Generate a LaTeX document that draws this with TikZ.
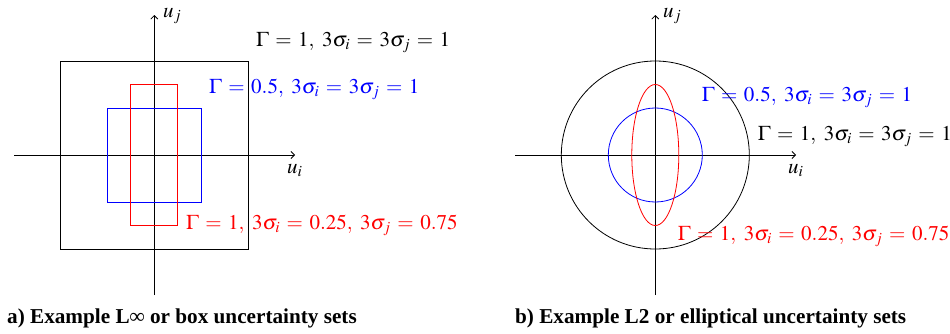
\documentclass[tikz,border=0pt]{standalone}
\usepackage{mathptmx}
\usepackage{fontspec}
\setmainfont{Liberation Serif}
\usetikzlibrary{arrows.meta}
\thickmuskip=5.6mu plus 2mu minus 1mu
\begin{document}
\begin{tikzpicture}[x=1pt,y=1pt,
  ax/.style={line width=0.8pt,-{Straight Barb[length=3.5pt,width=7pt]}},
  shp/.style={line width=0.8pt},
  lbl/.style={anchor=base west,inner sep=0pt,font=\fontsize{21}{24}\selectfont},
  captxt/.style={anchor=base west,inner sep=0pt,font=\fontsize{21.2}{24}\selectfont\bfseries}]
\useasboundingbox (0,0) rectangle (950,333);
% ---------- left panel ----------
\coordinate (Lo) at (154.3,178);
\coordinate (Lxa) at (14,178);
\coordinate (Lxb) at (295,178);
\coordinate (Lya) at (154.3,38);
\coordinate (Lyb) at (154.3,318);
\draw[ax] (Lxa) -- (Lxb);
\draw[ax] (Lya) -- (Lyb);
\draw[shp] ([shift={(-94,-94)}]Lo) rectangle ([shift={(94,94)}]Lo);
\draw[shp,blue] ([shift={(-47,-47)}]Lo) rectangle ([shift={(47,47)}]Lo);
\draw[shp,red] ([shift={(-23.5,-70.5)}]Lo) rectangle ([shift={(23.5,70.5)}]Lo);
\node[lbl] (Luj) at (163,316) {$u_j$};
\node[lbl] (Lui) at (287,160) {$u_i$};
\node[lbl] (Lk) at (256,286.3) {$\Gamma = 1,\ 3\sigma_i = 3\sigma_j = 1$};
\node[lbl,blue] (Lb) at (209,239.7) {$\Gamma = 0.5,\ 3\sigma_i = 3\sigma_j = 1$};
\node[lbl,red] (Lr) at (186,103.7) {$\Gamma = 1,\ 3\sigma_i = 0.25,\ 3\sigma_j = 0.75$};
\node[captxt] (Lc) at (7,9.7) {a) Example L∞ or box uncertainty sets};
% ---------- right panel ----------
\coordinate (Ro) at (655.3,178);
\coordinate (Rxa) at (515,178);
\coordinate (Rxb) at (796,178);
\coordinate (Rya) at (655.3,38);
\coordinate (Ryb) at (655.3,318);
\draw[ax] (Rxa) -- (Rxb);
\draw[ax] (Rya) -- (Ryb);
\draw[shp] (Ro) circle[radius=94];
\draw[shp,blue] (Ro) circle[radius=47];
\draw[shp,red] (Ro) ellipse[x radius=23.5,y radius=70.5];
\node[lbl] (Ruj) at (663,316) {$u_j$};
\node[lbl] (Rui) at (788,160) {$u_i$};
\node[lbl,blue] (Rb) at (701.7,231.3) {$\Gamma = 0.5,\ 3\sigma_i = 3\sigma_j = 1$};
\node[lbl] (Rk) at (757.7,192.3) {$\Gamma = 1,\ 3\sigma_i = 3\sigma_j = 1$};
\node[lbl,red] (Rr) at (677.7,93) {$\Gamma = 1,\ 3\sigma_i = 0.25,\ 3\sigma_j = 0.75$};
\node[captxt] (Rc) at (515,9.7) {b) Example L2 or elliptical uncertainty sets};
\end{tikzpicture}
\end{document}
